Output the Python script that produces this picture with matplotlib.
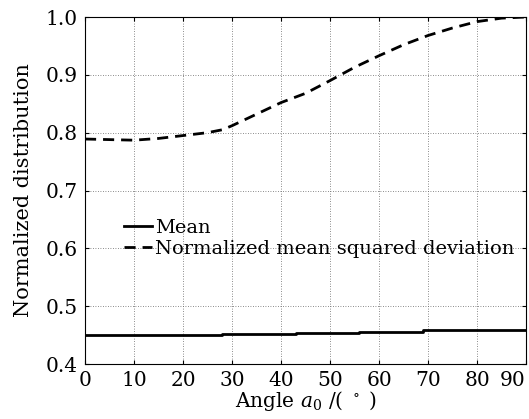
import matplotlib
matplotlib.use("Agg")
import matplotlib.pyplot as plt
import matplotlib.transforms as mtransforms

angles_dev = [0, 5, 10, 15, 20, 25, 28, 30, 35, 40, 45, 50, 55, 60, 65, 70, 75, 80, 85, 90]
dev_values = [0.789, 0.788, 0.787, 0.790, 0.795, 0.800, 0.805, 0.812, 0.832, 0.852, 0.868,
              0.890, 0.913, 0.933, 0.952, 0.968, 0.981, 0.992, 0.998, 1.000]
angles_mean = [0, 28, 43, 56, 69, 90]
mean_values = [0.451, 0.452, 0.454, 0.456, 0.459, 0.459]

xticks = [0, 10, 20, 30, 40, 50, 60, 70, 80, 90]
yticks = [0.4, 0.5, 0.6, 0.7, 0.8, 0.9, 1.0]

plt.rcParams['font.family'] = ['DejaVu Serif']
plt.rcParams['mathtext.fontset'] = 'dejavuserif'

fig = plt.figure(figsize=(5.29, 4.19), dpi=100)
ax = fig.add_axes([85/529, 1-364/419, (526-85)/529, (364-17)/419])

ax.plot(angles_mean, mean_values, color='black', lw=2.0, drawstyle='steps-post', label='Mean')
ax.plot(angles_dev, dev_values, color='black', lw=2.0, ls=(0, (4, 2.5)),
        label='Normalized mean squared deviation')

ax.set_xlim(0, 90)
ax.set_ylim(0.4, 1.0)
ax.set_xticks(xticks)
ax.set_yticks(yticks)
ax.set_yticklabels([f"{v:.1f}" for v in yticks])
ax.grid(True, color='#666666', ls=(0, (1, 2)), lw=0.6)
ax.tick_params(direction='in', top=True, right=True, labelsize=14.5, length=3, pad=5)
for s in ax.spines.values():
    s.set_linewidth(0.8)

# keep the last x tick label inside the figure
last = ax.get_xticklabels()[-1]
last.set_transform(last.get_transform() + mtransforms.ScaledTranslation(-13/100, 0, fig.dpi_scale_trans))

ax.set_xlabel(r'Angle $a_0$ /( $^\circ$ )', fontsize=14.5, labelpad=-1)
ax.set_ylabel('Normalized distribution', fontsize=15, labelpad=9)

ax.legend(loc='upper left', bbox_to_anchor=(0.07, 0.44), frameon=False, fontsize=14,
          handlelength=1.45, handletextpad=0.15, labelspacing=0.15, borderaxespad=0)

fig.savefig('out.png', dpi=100)
